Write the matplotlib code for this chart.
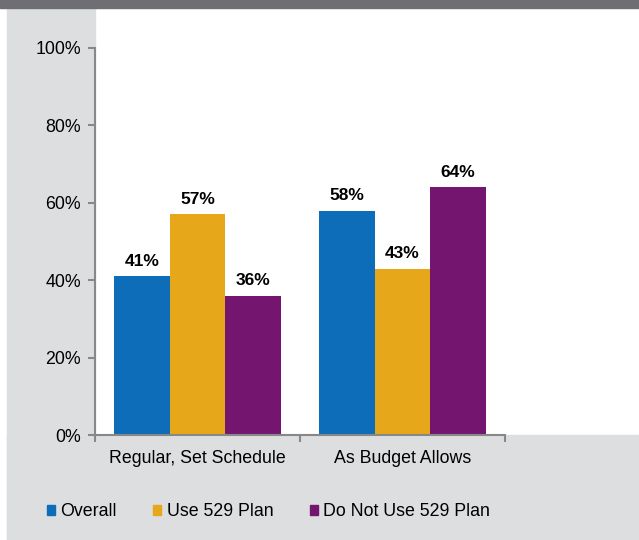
import numpy as np
from matplotlib import pyplot as plt
from matplotlib.patches import Rectangle, Patch

categories = ["Regular, Set Schedule", "As Budget Allows"]
series = ["Overall", "Use 529 Plan", "Do Not Use 529 Plan"]
overall = [41, 58]
use_529 = [57, 43]
no_529 = [36, 64]
colors = ["#0d6db8", "#e6a81a", "#74166f"]

W, H = 639, 540
fig = plt.figure(figsize=(W / 100, H / 100), dpi=100)
plt.rcParams['font.family'] = ['Liberation Sans', 'DejaVu Sans']

# background panels
gray = "#dddee0"
fig.patches.append(Rectangle((7 / W, 0), 88 / W, 1, transform=fig.transFigure, color=gray, zorder=-2))
fig.patches.append(Rectangle((7 / W, 0), 1, 105 / H, transform=fig.transFigure, color=gray, zorder=-2))
fig.patches.append(Rectangle((0, 1 - 8 / H), 1, 8 / H, transform=fig.transFigure, color="#6f6e73", zorder=-2))

ax = fig.add_axes([95 / W, 105 / H, 410 / W, 387 / H])
ax.set_facecolor("none")

fs = 12.8
x = np.array([0.5, 1.5])
bw = 0.27
for i, (vals, name) in enumerate(zip([overall, use_529, no_529], series)):
    xs = x + (i - 1) * bw
    ax.bar(xs, vals, width=bw, color=colors[i], label=name, zorder=2)
    for xx, v in zip(xs, vals):
        ax.text(xx, v + 2, f"{v}%", ha="center", va="bottom", fontsize=12.5, fontweight="bold")

ax.set_xlim(0, 2)
ax.set_ylim(0, 100)
ax.set_yticks(range(0, 101, 20))
ax.set_yticklabels([f"{v}%" for v in range(0, 101, 20)], fontsize=fs)
ax.set_xticks([0, 1, 2])
ax.set_xticklabels([])
ax.set_xticks(x, minor=True)
ax.set_xticklabels(categories, minor=True, fontsize=fs)
ax.tick_params(axis="x", which="minor", length=0, pad=11)
ax.tick_params(axis="both", which="major", length=5, width=1.5, color="#888888", direction="out")
ax.tick_params(axis="y", pad=5)

for s in ["top", "right"]:
    ax.spines[s].set_visible(False)
for s in ["left", "bottom"]:
    ax.spines[s].set_color("#888888")
    ax.spines[s].set_linewidth(1.5)

handles = [Patch(color=c, label=n) for c, n in zip(colors, series)]
fig.legend(handles=handles, loc="center left", bbox_to_anchor=(40 / W, 1 - 512 / H), ncol=3,
           frameon=False, fontsize=fs, handlelength=0.45, handleheight=0.45, handletextpad=0.3,
           columnspacing=2.05, borderaxespad=0)

plt.savefig("out.png", dpi=100)
